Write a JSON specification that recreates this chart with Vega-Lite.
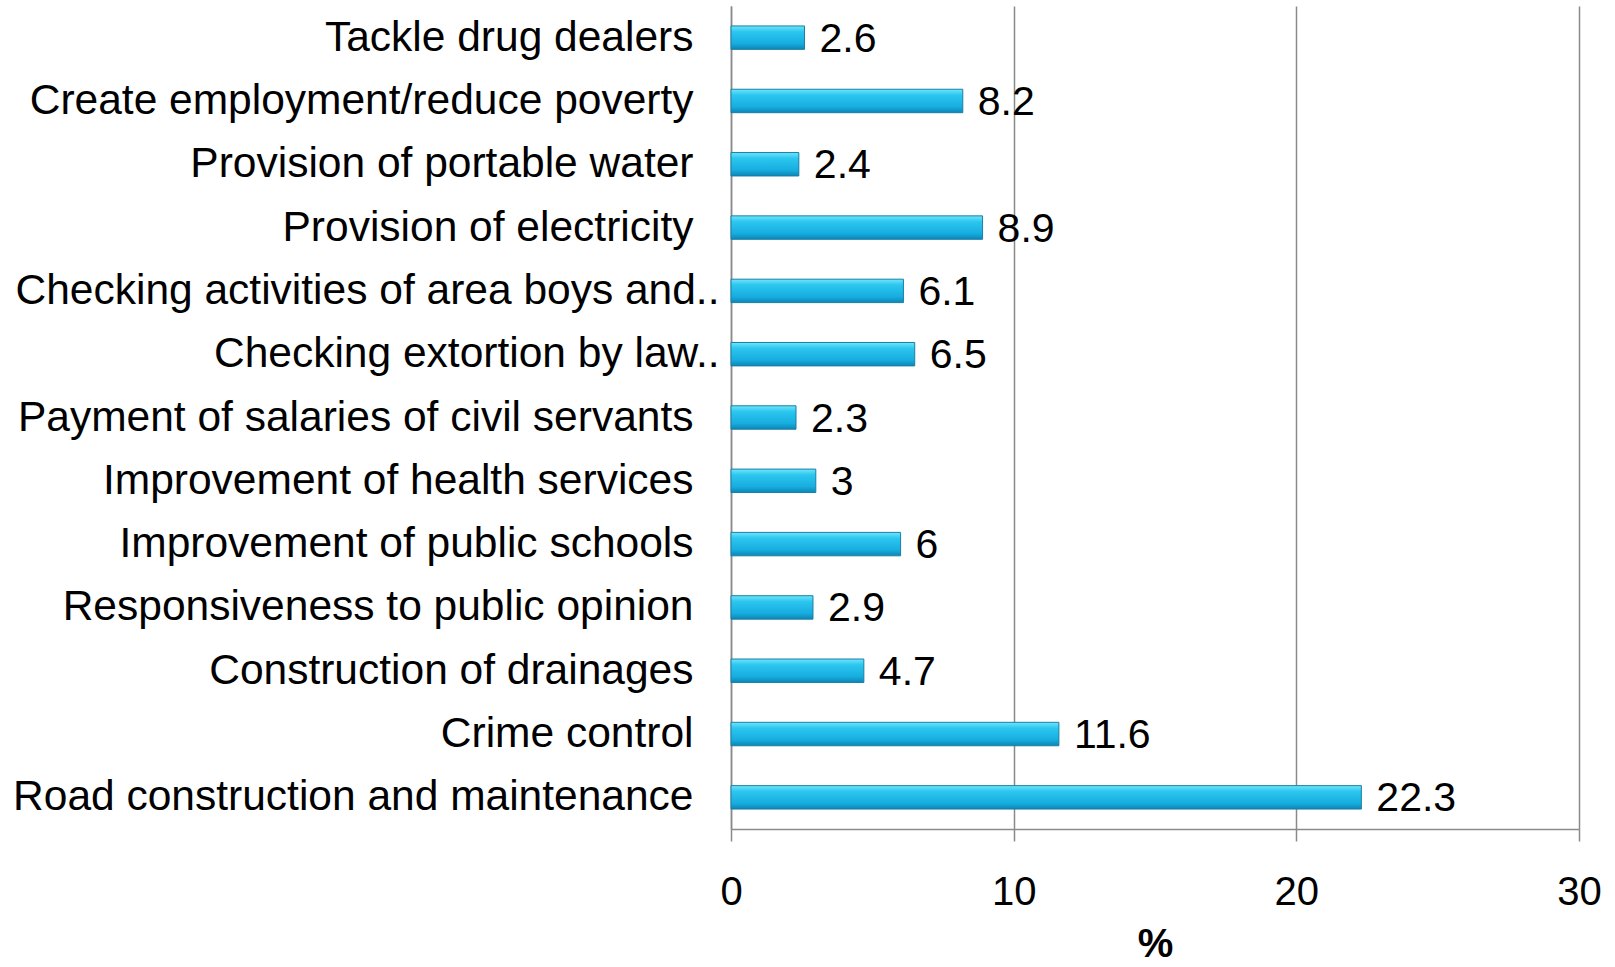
{
  "$schema": "https://vega.github.io/schema/vega-lite/v6.json",
  "autosize": "none",
  "padding": {"left": 731, "top": 6, "right": 36, "bottom": 138},
  "width": 848,
  "height": 823,
  "background": "white",
  "config": {"view": {"stroke": null}, "font": "Liberation Sans"},
  "data": {"values": [
    {"item": "Tackle drug dealers", "pct": 2.6},
    {"item": "Create employment/reduce poverty", "pct": 8.2},
    {"item": "Provision of portable water", "pct": 2.4},
    {"item": "Provision of electricity", "pct": 8.9},
    {"item": "Checking activities of area boys and..", "pct": 6.1},
    {"item": "Checking extortion by law..", "pct": 6.5},
    {"item": "Payment of salaries of civil servants", "pct": 2.3},
    {"item": "Improvement of health services", "pct": 3},
    {"item": "Improvement of public schools", "pct": 6},
    {"item": "Responsiveness to public opinion", "pct": 2.9},
    {"item": "Construction of drainages", "pct": 4.7},
    {"item": "Crime control", "pct": 11.6},
    {"item": "Road construction and maintenance", "pct": 22.3}
  ]},
  "encoding": {
    "y": {
      "field": "item", "type": "nominal", "sort": null,
      "scale": {"paddingInner": 0.63, "paddingOuter": 0.315},
      "axis": {
        "title": null, "ticks": false, "grid": false,
        "domain": true, "domainColor": "#8a8a8a", "domainWidth": 1.5,
        "labelFontSize": 42.5, "labelColor": "#000000", "labelFont": "Liberation Sans",
        "labelLimit": 800,
        "labelPadding": {"condition": {"test": "indexof(datum.value, '..') > 0", "value": 12}, "value": 38}
      }
    },
    "x": {
      "field": "pct", "type": "quantitative",
      "scale": {"domain": [0, 30], "nice": false},
      "axis": {
        "values": [0, 10, 20, 30], "title": "%", "labelFlush": false,
        "titleFontSize": 40, "titleFontWeight": "bold", "titleColor": "#000000", "titlePadding": 12,
        "labelFontSize": 40, "labelColor": "#000000", "labelPadding": 31,
        "tickSize": 12, "tickColor": "#8a8a8a", "tickWidth": 1.5,
        "domainColor": "#8a8a8a", "domainWidth": 1.5,
        "grid": true, "gridColor": "#8a8a8a", "gridWidth": 1.5
      }
    }
  },
  "layer": [
    {
      "mark": {
        "type": "bar",
        "stroke": "#1a7fa3", "strokeWidth": 1,
        "color": {
          "gradient": "linear", "x1": 0, "y1": 0, "x2": 0, "y2": 1,
          "stops": [
            {"offset": 0, "color": "#6fe6fb"},
            {"offset": 0.25, "color": "#2cc6ef"},
            {"offset": 0.75, "color": "#17ade0"},
            {"offset": 1, "color": "#0b86b5"}
          ]
        }
      }
    },
    {
      "mark": {"type": "text", "align": "left", "baseline": "middle", "dx": 15, "dy": 2, "fontSize": 41, "font": "Liberation Sans", "color": "#000000"},
      "encoding": {"text": {"field": "pct", "type": "quantitative"}}
    }
  ]
}
